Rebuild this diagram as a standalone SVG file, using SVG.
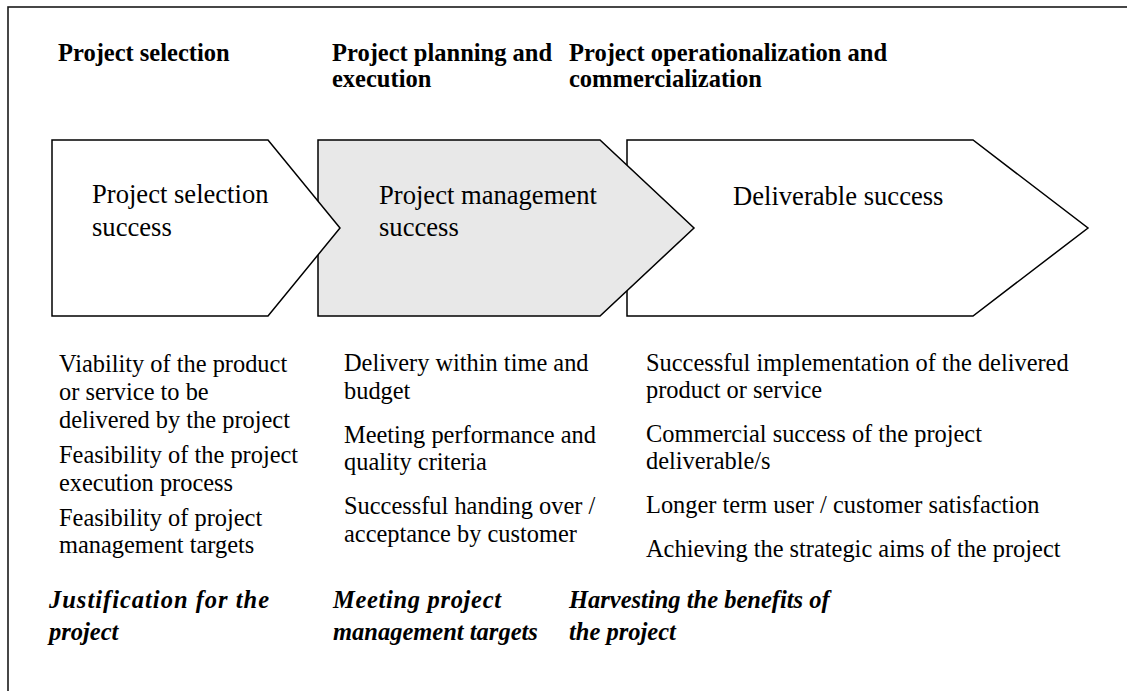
<svg xmlns="http://www.w3.org/2000/svg" width="1127" height="691" viewBox="0 0 1127 691">
<style>
.frame{fill:none;stroke:#1a1a1a;stroke-width:1.6}
.shape{stroke:#000;stroke-width:1.5;stroke-linejoin:miter}
.w{fill:#fff}
.g{fill:#e8e8e8}
text{font-family:"Liberation Serif","Times New Roman",serif;fill:#000}
.hd{font-size:24.5px;font-weight:bold}
.lb{font-size:26.6px}
.bd{font-size:24.4px}
.it{font-size:24.5px;font-weight:bold;font-style:italic}
</style>
<rect class="frame" x="8" y="7" width="1130" height="700"/>
<g id="headers">
<text class="hd" x="58" y="61">Project selection</text>
<text class="hd" x="332" y="61">Project planning and</text>
<text class="hd" x="332" y="87">execution</text>
<text class="hd" x="569" y="61">Project operationalization and</text>
<text class="hd" x="569" y="87">commercialization</text>
</g>
<g id="connectors"></g>
<g id="node3">
<polygon class="shape w" points="627,140 973,140 1088,228 973,316 627,316"/>
<text class="lb" x="733" y="205">Deliverable success</text>
</g>
<g id="node2">
<polygon class="shape g" points="318,140 600,140 694,228 600,316 318,316"/>
<text class="lb" x="379" y="204">Project management</text>
<text class="lb" x="379" y="236">success</text>
</g>
<g id="node1">
<polygon class="shape w" points="52,140 268,140 340,228 268,316 52,316"/>
<text class="lb" x="92" y="203">Project selection</text>
<text class="lb" x="92" y="236">success</text>
</g>
<g id="criteria1">
<text class="bd" x="59" y="372">Viability of the product</text>
<text class="bd" x="59" y="400">or service to be</text>
<text class="bd" x="59" y="428">delivered by the project</text>
<text class="bd" x="59" y="463">Feasibility of the project</text>
<text class="bd" x="59" y="491">execution process</text>
<text class="bd" x="59" y="526">Feasibility of project</text>
<text class="bd" x="59" y="553">management targets</text>
</g>
<g id="criteria2">
<text class="bd" x="344" y="371">Delivery within time and</text>
<text class="bd" x="344" y="399">budget</text>
<text class="bd" x="344" y="443">Meeting performance and</text>
<text class="bd" x="344" y="470">quality criteria</text>
<text class="bd" x="344" y="514">Successful handing over /</text>
<text class="bd" x="344" y="542">acceptance by customer</text>
</g>
<g id="criteria3">
<text class="bd" x="646" y="371">Successful implementation of the delivered</text>
<text class="bd" x="646" y="398">product or service</text>
<text class="bd" x="646" y="442">Commercial success of the project</text>
<text class="bd" x="646" y="469">deliverable/s</text>
<text class="bd" x="646" y="513">Longer term user / customer satisfaction</text>
<text class="bd" x="646" y="557">Achieving the strategic aims of the project</text>
</g>
<g id="aims">
<text class="it" x="49" y="608" textLength="220" lengthAdjust="spacing">Justification for the</text>
<text class="it" x="49" y="640">project</text>
<text class="it" x="333" y="608" textLength="168" lengthAdjust="spacing">Meeting project</text>
<text class="it" x="333" y="640">management targets</text>
<text class="it" x="569" y="608">Harvesting the benefits of</text>
<text class="it" x="569" y="640">the project</text>
</g>
</svg>
